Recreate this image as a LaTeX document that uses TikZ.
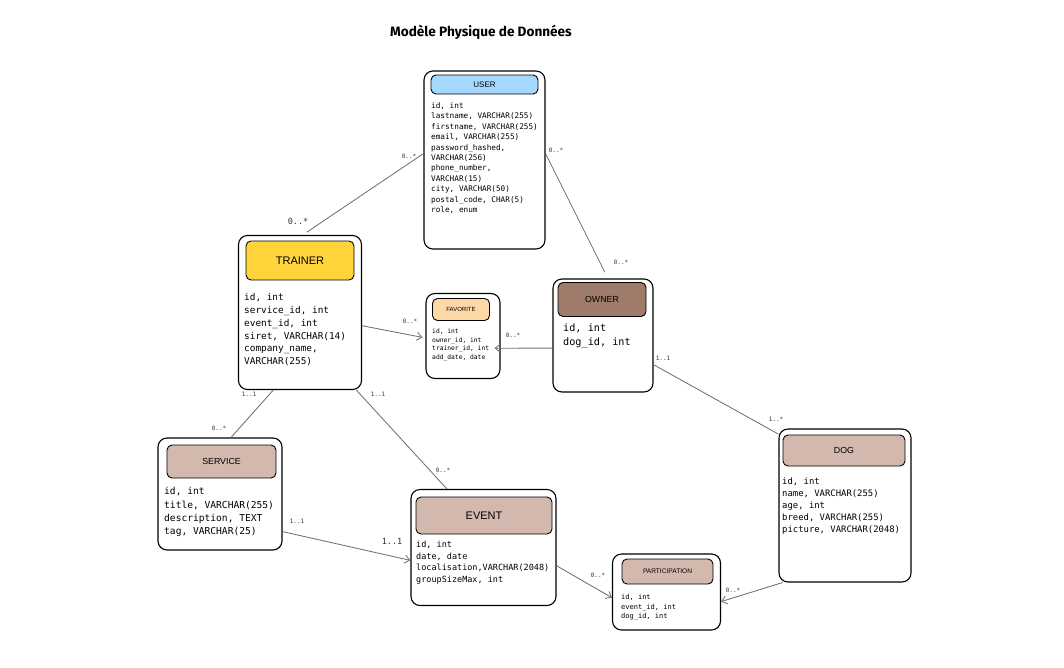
\documentclass[tikz,border=0pt]{standalone}
\usepackage{fontspec}
\setmainfont{Liberation Sans}
\setmonofont{DejaVu Sans Mono}
\newfontfamily\titlefont{Fira Sans}
\usetikzlibrary{arrows.meta}
\definecolor{userBlue}{HTML}{A5D8FF}
\definecolor{trainerYellow}{HTML}{FFD43B}
\definecolor{favOrange}{HTML}{FFD8A8}
\definecolor{ownerBrown}{HTML}{9F7B6B}
\definecolor{tableRose}{HTML}{D3B8AE}
\definecolor{linkGray}{HTML}{707070}

\begin{document}
\begin{tikzpicture}[x=1pt,y=-1pt,
        entity/.style={draw, rounded corners=9pt, line width=1.1pt, inner sep=0pt},
        head/.style={draw, rounded corners=5pt, line width=0.9pt, inner sep=0pt},
        attrs/.style 2 args={anchor=north west, align=left, inner sep=0pt, font=\ttfamily\fontsize{#1}{#2}\selectfont},
        card/.style={inner sep=0pt, text=black!80, font=\ttfamily\fontsize{6}{6}\selectfont},
        link/.style={draw=linkGray, line width=0.85pt},
        arrowLink/.style={link, -{Straight Barb[length=5pt,width=8pt]}}]
        \useasboundingbox (0,0) rectangle (1064,667);
        \node[font=\titlefont\bfseries\fontsize{13.6}{13.6}\selectfont] (title) at (481,32) {Modèle Physique de Données};

        \node[entity, minimum width=121, minimum height=178] (user) at (484.5,160) {};
        \node[head, fill=userBlue, minimum width=107, minimum height=19, font=\fontsize{8}{8}\selectfont] (userHead) at (484.5,84.5) {USER};
        \node[attrs={7.7}{10.4}] (userAttrs) at (431,102.5) {id, int\\lastname, VARCHAR(255)\\firstname, VARCHAR(255)\\email, VARCHAR(255)\\password\_hashed,\\VARCHAR(256)\\phone\_number,\\VARCHAR(15)\\city, VARCHAR(50)\\postal\_code, CHAR(5)\\role, enum};

        \node[entity, minimum width=123, minimum height=154] (trainer) at (300,312.5) {};
        \node[head, fill=trainerYellow, minimum width=108, minimum height=39, font=\fontsize{11}{11}\selectfont] (trainerHead) at (300,260.5) {TRAINER};
        \node[attrs={9.4}{12.8}] (trainerAttrs) at (244,293.4) {id, int\\service\_id, int\\event\_id, int\\siret, VARCHAR(14)\\company\_name,\\VARCHAR(255)};

        \node[entity, minimum width=74, minimum height=85] (favorite) at (463,336) {};
        \node[head, fill=favOrange, minimum width=57, minimum height=22, font=\fontsize{6}{6}\selectfont] (favoriteHead) at (461,309.5) {FAVORITE};
        \node[attrs={6.3}{8.7}] (favoriteAttrs) at (432,328.6) {id, int\\owner\_id, int\\trainer\_id, int\\add\_date, date};

        \node[entity, minimum width=100, minimum height=113] (owner) at (603,335.5) {};
        \node[head, fill=ownerBrown, minimum width=88, minimum height=34, font=\fontsize{8.8}{8.8}\selectfont] (ownerHead) at (602,299.5) {OWNER};
        \node[attrs={10.2}{14}] (ownerAttrs) at (563,323.5) {id, int\\dog\_id, int};

        \node[entity, minimum width=124, minimum height=112] (service) at (220,494) {};
        \node[head, fill=tableRose, minimum width=109, minimum height=33, font=\fontsize{8.8}{8.8}\selectfont] (serviceHead) at (221.5,461.5) {SERVICE};
        \node[attrs={9.6}{13.3}] (serviceAttrs) at (164,487.3) {id, int\\title, VARCHAR(255)\\description, TEXT\\tag, VARCHAR(25)};

        \node[entity, minimum width=145, minimum height=116] (event) at (483.5,547.5) {};
        \node[head, fill=tableRose, minimum width=136, minimum height=37, font=\fontsize{11}{11}\selectfont] (eventHead) at (484,515.5) {EVENT};
        \node[attrs={8.5}{11.7}] (eventAttrs) at (416,540.8) {id, int\\date, date\\localisation,VARCHAR(2048)\\groupSizeMax, int};

        \node[entity, minimum width=132, minimum height=153] (dog) at (845,505.5) {};
        \node[head, fill=tableRose, minimum width=122, minimum height=31, font=\fontsize{8.8}{8.8}\selectfont] (dogHead) at (844,450.5) {DOG};
        \node[attrs={8.9}{12}] (dogAttrs) at (782,477.6) {id, int\\name, VARCHAR(255)\\age, int\\breed, VARCHAR(255)\\picture, VARCHAR(2048)};

        \node[entity, minimum width=108, minimum height=76] (participation) at (666.5,592) {};
        \node[head, fill=tableRose, minimum width=91, minimum height=25, font=\fontsize{6.6}{6.6}\selectfont] (participationHead) at (667.5,571.5) {PARTICIPATION};
        \node[attrs={7}{9.5}] (participationAttrs) at (621,594.3) {id, int\\event\_id, int\\dog\_id, int};

        \draw[link, shorten <=5pt] (trainer.88) -- (user.174);
        \draw[link, shorten >=7pt] (user.6) -- (owner.85);
        \draw[arrowLink, shorten >=3pt] (trainer.-12) -- (favorite.183);
        \draw[arrowLink, shorten >=-6pt] (owner.194) -- (favorite.-18);
        \draw[link] (owner.-30) -- (dog.133);
        \draw[link] (trainer.251) -- (service.79);
        \draw[link] (trainer.-54) -- (event.122);
        \draw[arrowLink] (service.-31) -- (event.190);
        \draw[arrowLink] (event.-14) -- (participation.186);
        \draw[arrowLink] (dog.231) -- (participation.-10);

        \node[card] (cardUserTrainer) at (409,156) {0..*};
        \node[card, font=\ttfamily\fontsize{8.5}{8.5}\selectfont] (cardTrainerUser) at (298,221) {0..*};
        \node[card] (cardUserOwner) at (556,150) {0..*};
        \node[card] (cardOwnerUser) at (621,262) {0..*};
        \node[card] (cardFavTrainer) at (410,321) {0..*};
        \node[card] (cardFavOwner) at (513,335) {0..*};
        \node[card] (cardOwnerDog) at (663,358) {1..1};
        \node[card] (cardDogOwner) at (776,419) {1..*};
        \node[card] (cardTrainerService) at (249,394) {1..1};
        \node[card] (cardServiceTrainer) at (219,428) {0..*};
        \node[card] (cardTrainerEvent) at (378,394) {1..1};
        \node[card] (cardEventTrainer) at (443,470) {0..*};
        \node[card] (cardServiceEvent) at (297,521) {1..1};
        \node[card, font=\ttfamily\fontsize{8.5}{8.5}\selectfont] (cardEventService) at (392,541) {1..1};
        \node[card] (cardPartEvent) at (598,575) {0..*};
        \node[card] (cardPartDog) at (733,590) {0..*};
\end{tikzpicture}
\end{document}
